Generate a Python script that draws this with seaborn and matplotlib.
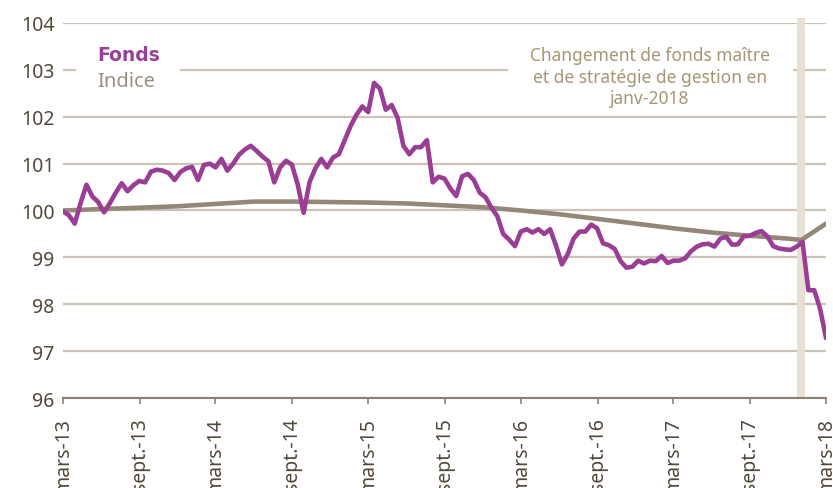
import pandas as pd
import matplotlib
matplotlib.use("Agg")
import matplotlib.pyplot as plt
from matplotlib.patches import Rectangle
import seaborn as sns

# --- data -------------------------------------------------------------
start_date = "2013-03-01"
end_date = "2018-03-01"

# Fund NAV rebased to 100, sampled every two weeks
fonds_values = [
    99.98, 99.90, 99.72, 100.16, 100.55, 100.30, 100.18, 99.96, 100.16, 100.38,
    100.58, 100.41, 100.54, 100.63, 100.60, 100.83, 100.87, 100.85, 100.80, 100.65,
    100.82, 100.90, 100.93, 100.65, 100.97, 101.00, 100.92, 101.10, 100.85, 101.00,
    101.19, 101.30, 101.38, 101.27, 101.15, 101.05, 100.60, 100.92, 101.06, 100.98,
    100.55, 99.95, 100.60, 100.90, 101.10, 100.92, 101.13, 101.20, 101.50, 101.80,
    102.04, 102.22, 102.10, 102.72, 102.60, 102.15, 102.25, 101.98, 101.38, 101.20,
    101.35, 101.35, 101.50, 100.60, 100.72, 100.68, 100.47, 100.31, 100.73, 100.78,
    100.65, 100.38, 100.28, 100.06, 99.88, 99.50, 99.38, 99.24, 99.55, 99.60,
    99.53, 99.60, 99.50, 99.60, 99.25, 98.85, 99.07, 99.40, 99.55, 99.55,
    99.70, 99.62, 99.30, 99.26, 99.18, 98.92, 98.78, 98.80, 98.93, 98.87,
    98.93, 98.92, 99.03, 98.88, 98.93, 98.93, 98.98, 99.13, 99.23, 99.28,
    99.29, 99.23, 99.40, 99.44, 99.27, 99.28, 99.45, 99.46, 99.52, 99.56,
    99.45, 99.24, 99.19, 99.17, 99.16, 99.23, 99.33, 98.30, 98.30, 97.90,
    97.28,
]

# Benchmark index (smooth), quarterly points plus the switch date
indice_dates = [
    "2013-03-01", "2013-06-01", "2013-09-01", "2013-12-01", "2014-03-01",
    "2014-06-01", "2014-09-01", "2014-12-01", "2015-03-01", "2015-06-01",
    "2015-09-01", "2015-12-01", "2016-03-01", "2016-06-01", "2016-09-01",
    "2016-12-01", "2017-03-01", "2017-06-01", "2017-09-01", "2017-12-01",
    "2018-01-01", "2018-03-01",
]
indice_values = [
    100.00, 100.03, 100.06, 100.09, 100.14, 100.19, 100.19, 100.18, 100.17, 100.15,
    100.11, 100.07, 100.00, 99.92, 99.82, 99.72, 99.62, 99.53, 99.46, 99.40,
    99.37, 99.72,
]

series_names = ["Fonds", "Indice"]

# Master-fund / strategy change (January 2018)
switch_start = "2017-12-22"
switch_end = "2018-01-10"
switch_note = "Changement de fonds maître\net de stratégie de gestion en\njanv-2018"

tick_dates = [
    "2013-03-01", "2013-09-01", "2014-03-01", "2014-09-01", "2015-03-01",
    "2015-09-01", "2016-03-01", "2016-09-01", "2017-03-01", "2017-09-01",
    "2018-03-01",
]
tick_labels = [
    "mars-13", "sept.-13", "mars-14", "sept.-14", "mars-15", "sept.-15",
    "mars-16", "sept.-16", "mars-17", "sept.-17", "mars-18",
]
y_ticks = [96, 97, 98, 99, 100, 101, 102, 103, 104]

# --- styling ----------------------------------------------------------
c_fonds = "#9a3e95"
c_indice = "#958777"
c_indice_txt = "#9c8f82"
c_note = "#a59773"
c_grid = "#cbc3b8"
c_band = "#e9e0d4"
c_text = "#52483a"
c_axis = "#8c8171"

sns.set_theme(style="white")
plt.rcParams["font.family"] = ["Noto Sans", "DejaVu Sans"]

fonds_df = pd.DataFrame({
    "date": pd.date_range(start_date, end_date, periods=len(fonds_values)),
    "valeur": fonds_values,
    "série": series_names[0],
})
indice_df = pd.DataFrame({
    "date": pd.to_datetime(indice_dates),
    "valeur": indice_values,
    "série": series_names[1],
})
df = pd.concat([fonds_df, indice_df], ignore_index=True)

fig = plt.figure(figsize=(8.33, 4.89), dpi=100)
ax = fig.add_axes([0.0756, 0.184, 0.916, 0.767])

# horizontal gridlines
for v in y_ticks:
    ax.axhline(v, color=c_grid, lw=1.6, zorder=1)

ax.axvspan(pd.Timestamp(switch_start), pd.Timestamp(switch_end), ymin=0, ymax=1.012,
           color=c_band, lw=0, zorder=2, clip_on=False)

sns.lineplot(data=df, x="date", y="valeur", hue="série", hue_order=series_names[::-1],
             palette={"Fonds": c_fonds, "Indice": c_indice}, linewidth=3.3,
             ax=ax, legend=False, zorder=3)

ax.set_xlim(pd.Timestamp(start_date), pd.Timestamp(end_date))
ax.set_ylim(96, 104)
ax.set_xlabel("")
ax.set_ylabel("")

ax.set_yticks(y_ticks)
ax.set_yticklabels([str(v) for v in y_ticks])
ax.set_xticks(pd.to_datetime(tick_dates))
ax.set_xticklabels(tick_labels, rotation=90, va="top", ha="center")

ax.tick_params(axis="y", length=0, pad=6, labelsize=14, labelcolor=c_text)
ax.tick_params(axis="x", direction="out", length=4.5, width=1.2, color=c_axis,
               pad=9, labelsize=14, labelcolor=c_text, bottom=True)

for side in ["left", "right", "top"]:
    ax.spines[side].set_visible(False)
ax.spines["bottom"].set_color(c_axis)
ax.spines["bottom"].set_linewidth(1.5)
ax.spines["bottom"].set_zorder(4)

# white panels behind the legend and the note
ax.add_patch(Rectangle((0.017, 0.784), 0.136, 0.168, transform=ax.transAxes,
                       facecolor="white", edgecolor="none", zorder=4))
ax.add_patch(Rectangle((0.583, 0.765), 0.374, 0.190, transform=ax.transAxes,
                       facecolor="white", edgecolor="none", zorder=4))

# text-only legend
ax.text(0.0446, 0.917, series_names[0], transform=ax.transAxes, fontsize=13.5,
        fontweight="bold", family=["DejaVu Sans"], color=c_fonds,
        ha="left", va="center", zorder=5)
ax.text(0.0446, 0.846, series_names[1], transform=ax.transAxes, fontsize=14.5,
        color=c_indice_txt, ha="left", va="center", zorder=5)

ax.text(0.769, 0.856, switch_note, transform=ax.transAxes, fontsize=12.5,
        color=c_note, ha="center", va="center", linespacing=1.25, zorder=5)

fig.savefig("out.png", dpi=100)
